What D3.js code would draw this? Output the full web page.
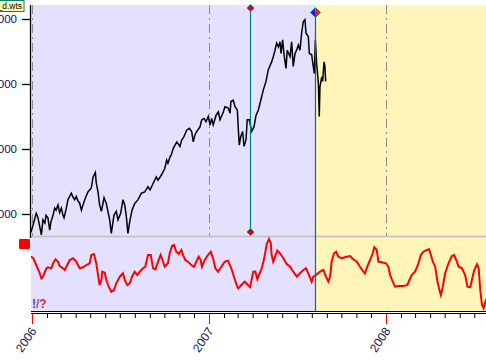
<!DOCTYPE html>
<html><head><meta charset="utf-8">
<script src="https://cdn.jsdelivr.net/npm/d3@7"></script>
<style>body{margin:0;background:#fff}svg{display:block}</style></head>
<body>
<script>
// ---- data (decimal years / index points) ----
const priceDates=[2005.994,2006.006,2006.017,2006.024,2006.034,2006.042,2006.053,2006.062,2006.073,2006.079,2006.090,2006.100,2006.107,2006.119,2006.128,2006.136,2006.147,2006.156,2006.166,2006.175,2006.181,2006.194,2006.203,2006.213,2006.222,2006.232,2006.241,2006.250,2006.260,2006.269,2006.279,2006.288,2006.298,2006.307,2006.316,2006.335,2006.345,2006.358,2006.363,2006.373,2006.382,2006.392,2006.407,2006.420,2006.429,2006.439,2006.448,2006.463,2006.476,2006.486,2006.501,2006.514,2006.524,2006.533,2006.542,2006.552,2006.565,2006.580,2006.599,2006.618,2006.637,2006.655,2006.667,2006.684,2006.702,2006.712,2006.731,2006.750,2006.761,2006.768,2006.780,2006.787,2006.798,2006.818,2006.836,2006.846,2006.855,2006.874,2006.889,2006.902,2006.911,2006.921,2006.931,2006.949,2006.959,2006.972,2006.983,2006.996,2007.006,2007.015,2007.024,2007.040,2007.053,2007.062,2007.081,2007.090,2007.109,2007.119,2007.124,2007.137,2007.147,2007.160,2007.166,2007.171,2007.179,2007.190,2007.198,2007.209,2007.216,2007.228,2007.241,2007.254,2007.266,2007.279,2007.288,2007.307,2007.322,2007.335,2007.354,2007.363,2007.373,2007.382,2007.392,2007.401,2007.407,2007.416,2007.424,2007.435,2007.442,2007.458,2007.467,2007.476,2007.486,2007.495,2007.505,2007.514,2007.524,2007.533,2007.542,2007.548,2007.561,2007.567,2007.580,2007.589,2007.595,2007.601,2007.608,2007.618,2007.623,2007.627,2007.637,2007.642,2007.650,2007.655,2007.659];
const priceValues=[10720,10830,10940,11010,10940,10830,10680,10910,10860,10980,10940,10750,10880,10980,11090,11060,11140,11020,11090,10980,10940,11090,11220,11270,11320,11260,11220,11270,11200,11170,11060,11140,11220,11280,11340,11400,11570,11640,11480,11340,11140,11040,11250,11160,11040,10910,10700,10980,11040,10910,11010,11220,11140,10960,10700,10880,11060,11160,11220,11320,11340,11420,11370,11470,11570,11520,11600,11700,11830,11780,11880,11910,12010,12110,12040,12140,12170,12290,12320,12270,12110,12220,12270,12340,12450,12470,12420,12500,12370,12470,12370,12520,12570,12450,12570,12650,12630,12550,12730,12750,12650,12600,12290,12060,12190,12270,12040,12140,12450,12450,12270,12340,12520,12600,12700,12910,13040,13220,13340,13420,13520,13630,13570,13650,13470,13680,13450,13240,13520,13420,13650,13270,13470,13520,13600,13520,13800,13960,13990,13780,13730,13470,13450,13270,13160,13680,13320,13010,12500,12960,13110,13040,13340,13270,13040];
const indDates=[2005.994,2006.006,2006.024,2006.044,2006.053,2006.062,2006.081,2006.090,2006.109,2006.119,2006.132,2006.147,2006.156,2006.175,2006.185,2006.199,2006.213,2006.232,2006.250,2006.269,2006.288,2006.307,2006.326,2006.335,2006.350,2006.363,2006.373,2006.382,2006.392,2006.397,2006.411,2006.420,2006.433,2006.448,2006.463,2006.476,2006.496,2006.514,2006.524,2006.538,2006.552,2006.565,2006.580,2006.595,2006.609,2006.627,2006.640,2006.655,2006.671,2006.684,2006.697,2006.712,2006.727,2006.740,2006.750,2006.759,2006.768,2006.778,2006.791,2006.802,2006.815,2006.829,2006.844,2006.853,2006.866,2006.881,2006.900,2006.915,2006.928,2006.942,2006.953,2006.960,2006.976,2006.994,2007.010,2007.023,2007.036,2007.051,2007.070,2007.089,2007.107,2007.126,2007.141,2007.160,2007.166,2007.183,2007.202,2007.220,2007.232,2007.250,2007.262,2007.273,2007.298,2007.312,2007.326,2007.339,2007.349,2007.354,2007.363,2007.373,2007.386,2007.401,2007.420,2007.439,2007.458,2007.476,2007.496,2007.514,2007.533,2007.548,2007.561,2007.580,2007.589,2007.605,2007.627,2007.646,2007.661,2007.674,2007.684,2007.693,2007.706,2007.718,2007.731,2007.750,2007.778,2007.797,2007.815,2007.835,2007.853,2007.872,2007.881,2007.894,2007.910,2007.925,2007.934,2007.948,2007.957,2007.976,2008.000,2008.013,2008.023,2008.038,2008.051,2008.070,2008.098,2008.120,2008.132,2008.145,2008.164,2008.183,2008.196,2008.211,2008.230,2008.243,2008.253,2008.264,2008.277,2008.290,2008.301,2008.309,2008.320,2008.333,2008.352,2008.371,2008.384,2008.396,2008.409,2008.428,2008.446,2008.459,2008.475,2008.484,2008.497,2008.513,2008.522,2008.531,2008.541,2008.550,2008.560,2008.571];
const indValues=[54.3,53,46,37.7,32.7,34.3,42.7,43.7,42.7,47.7,51.7,49.3,45,42.7,41,46,51,52.7,49.3,42.7,43.7,46,47.7,56,57,47.7,36,26,31,39.3,38.3,31,24.3,19.3,21,27.7,34.3,37.7,31,26,27.7,34.3,39.3,36,39.3,42.7,44.3,56,56,42.7,41.7,49.3,56,49.3,44.3,46,47.7,57.7,65,66,59.3,57,61,56,51,49.3,46,44.3,49.3,54.3,51,44.3,51,56,59.3,52.7,42.7,39.3,44.3,49.3,50.3,42.7,34.3,24.3,22.7,26,29.3,26,24,39.3,39.5,32,42.7,52.7,67,72,67.7,56,49.3,54.3,60.5,57.7,52.7,47,44.3,39.3,34.3,37.7,41,42.7,37.7,29.3,34.3,36,39.3,41,34.3,29.3,34.3,49.3,57.7,59.3,54.3,52.7,54.3,55,51.7,49.3,44.3,39.3,37.7,44.3,51,57.7,63.7,61,49.3,48.7,47.7,44.3,36,29.3,24.3,25,25,26,31,36,39.3,47.7,56,59.3,61,61.7,56,49.3,44.3,29.3,21,16,24.3,37.7,47.7,55,56,51,44.3,42.7,36,24.3,23.7,31,41,46.7,42.7,21,6,2.7,9.3,14];
const yTicks=[11000,12000,13000,14000];
const yearTicks=[2006,2007,2008];
const cursorDate=2007.232;
const splitDate=2007.599;
const fileLabel="^DJI_d.wts";

// ---- helpers ----
function toDate(t){const y=Math.floor(t);const a=new Date(y,0,1),b=new Date(y+1,0,1);return new Date(+a+(t-y)*(b-a));}
const W=486,H=364, L=31, R=486, T=5, MID=236, B=311;
const svg=d3.select("body").append("svg").attr("width",W).attr("height",H)
  .style("font-family","'Liberation Sans', Arial, sans-serif");
const x=d3.scaleTime().domain([new Date(2006,0,1),new Date(2008,0,1)]).range([32,386]);
const yP=d3.scaleLinear().domain([11000,14000]).range([214,19]);
const yI=d3.scaleLinear().domain([0,75]).range([B,MID]);
const xs=x(toDate(splitDate)), xc=x(toDate(cursorDate));

const defs=svg.append("defs");
defs.append("clipPath").attr("id","cu").append("rect").attr("x",L).attr("y",T).attr("width",R-L).attr("height",MID-T);
defs.append("clipPath").attr("id","cl").append("rect").attr("x",L).attr("y",MID).attr("width",R-L).attr("height",B-MID);

// backgrounds
svg.append("rect").attr("x",L).attr("y",T).attr("width",xs-L).attr("height",B-T).attr("fill","#e3e1ff");
svg.append("rect").attr("x",xs).attr("y",T).attr("width",R-xs).attr("height",B-T).attr("fill","#fff4b9");

// separator
svg.append("line").attr("x1",L).attr("x2",R).attr("y1",MID+0.5).attr("y2",MID+0.5).attr("stroke","#c0c0c0").attr("stroke-width",1.5);

// year dash-dot lines (upper panel)
svg.append("g").selectAll("line").data(yearTicks).join("line")
  .attr("x1",d=>Math.round(x(new Date(d,0,1)))+0.5).attr("x2",d=>Math.round(x(new Date(d,0,1)))+0.5)
  .attr("y1",T).attr("y2",MID).attr("stroke","#8a8a8a").attr("stroke-width",1)
  .attr("stroke-dasharray","9,4,2,4");

// price line
const pdata=priceDates.map((t,i)=>[toDate(t),priceValues[i]]);
svg.append("path").datum(pdata).attr("clip-path","url(#cu)")
  .attr("d",d3.line().x(d=>x(d[0])).y(d=>yP(d[1])))
  .attr("fill","none").attr("stroke","#000").attr("stroke-width",1.5).attr("stroke-linejoin","miter");

// indicator line
const idata=indDates.map((t,i)=>[toDate(t),indValues[i]]);
svg.append("path").datum(idata).attr("clip-path","url(#cl)")
  .attr("d",d3.line().x(d=>x(d[0])).y(d=>yI(d[1])))
  .attr("fill","none").attr("stroke","#ff0000").attr("stroke-width",2);

// cursor line
svg.append("line").attr("x1",Math.round(xc)+0.5).attr("x2",Math.round(xc)+0.5).attr("y1",8).attr("y2",232)
  .attr("stroke","#008080").attr("stroke-width",1.2);
[8,232].forEach(cy=>{
  svg.append("path").attr("d",`M${Math.round(xc)+0.5},${cy-3.5}L${Math.round(xc)+4},${cy}L${Math.round(xc)+0.5},${cy+3.5}L${Math.round(xc)-3},${cy}Z`)
    .attr("fill","#e00000").attr("stroke","#008080").attr("stroke-width",0.8);
});

// split line
const sx=Math.round(xs)+0.5;
svg.append("line").attr("x1",sx).attr("x2",sx).attr("y1",12).attr("y2",B)
  .attr("stroke","#006f80").attr("stroke-width",1.2);
svg.append("path").attr("d",`M${sx},${7.5}L${sx},${17.5}L${sx-5},${12.5}Z`).attr("fill","#1a1aff");
svg.append("path").attr("d",`M${sx},${7.5}L${sx},${17.5}L${sx+5},${12.5}Z`).attr("fill","#ff1a1a");
svg.append("path").attr("d",`M${sx},${7.5}L${sx+5},${12.5}L${sx},${17.5}L${sx-5},${12.5}Z`)
  .attr("fill","none").attr("stroke","#008080").attr("stroke-width",0.8);

// y axis
svg.append("line").attr("x1",L-0.5).attr("x2",L-0.5).attr("y1",T).attr("y2",MID+2).attr("stroke","#000").attr("stroke-width",1.3);
const ya=svg.append("g").attr("transform",`translate(${L-1},0)`)
  .call(d3.axisLeft(yP).tickValues(yTicks).tickSize(8).tickPadding(5).tickFormat(d3.format("d")));
ya.select(".domain").remove();
ya.selectAll(".tick line").attr("stroke","#000").attr("stroke-width",1.3);
ya.selectAll(".tick text").attr("fill","#0a0a6a").style("font-size","11.5px").style("font-family","'Liberation Sans', Arial, sans-serif");

// x axis
svg.append("line").attr("x1",L).attr("x2",R).attr("y1",B+0.5).attr("y2",B+0.5).attr("stroke","#000");
svg.append("line").attr("x1",L).attr("x2",R).attr("y1",B+2.5).attr("y2",B+2.5).attr("stroke","#000");
const months=d3.timeMonth.range(new Date(2006,0,1), x.invert(R));
const xa=svg.append("g").attr("transform",`translate(0,${B+3})`)
  .call(d3.axisBottom(x).tickValues(months).tickSize(4).tickFormat(""));
xa.select(".domain").remove();
xa.selectAll(".tick line").attr("stroke","#000")
  .filter(d=>d.getMonth()===0).attr("stroke","#ff0000").attr("y2",10);

svg.append("g").selectAll("text").data(yearTicks).join("text")
  .attr("transform",d=>`translate(${x(new Date(d,0,1))+5},331) rotate(-56)`)
  .attr("text-anchor","end").attr("fill","#141450").style("font-size","12px")
  .text(d=>d);

// red square in lower panel
svg.append("rect").attr("x",19).attr("y",239).attr("width",11).attr("height",10).attr("rx",1).attr("fill","#ff0000");

// flag text
const ft=svg.append("text").attr("x",32).attr("y",308).style("font-size","12px").style("font-weight","bold");
ft.append("tspan").attr("fill","#4a3cff").text("!");
ft.append("tspan").attr("fill","#c04080").text("/");
ft.append("tspan").attr("fill","#e0204a").text("?");

// file label box
svg.append("rect").attr("x",-20).attr("y",0.5).attr("width",44).attr("height",11).attr("fill","#ffffb0").attr("stroke","#008070").attr("stroke-width",1);
svg.append("text").attr("x",22).attr("y",9).attr("text-anchor","end").style("font-size","8.5px").attr("fill","#000").text(fileLabel);
</script>
</body></html>
